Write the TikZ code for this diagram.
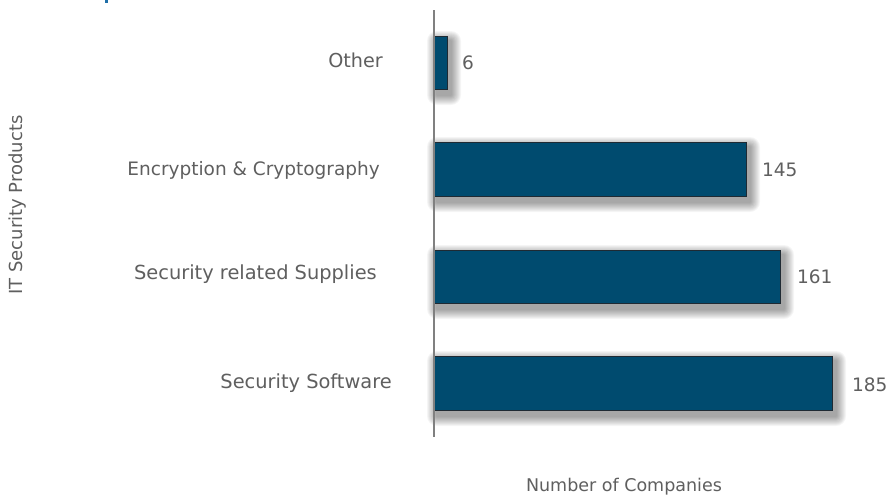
\documentclass[tikz,border=0pt]{standalone}
\usepackage{fontspec}
\setmainfont{DejaVu Sans}
\usetikzlibrary{backgrounds}
\definecolor{barblue}{HTML}{004B6F}
\definecolor{bardark}{HTML}{1F2A33}
\definecolor{txtgray}{HTML}{5F5F5F}
\definecolor{axisgray}{HTML}{808080}
\definecolor{markblue}{HTML}{1F6FA8}
\tikzset{
  bar/.style={fill=barblue, draw=bardark, line width=1pt, inner sep=0pt, anchor=north west},
  cat/.style={anchor=east, text=txtgray, inner sep=0pt},
  val/.style={anchor=west, text=txtgray, font=\fontsize{18.5}{22}\selectfont, inner sep=0pt},
  axt/.style={text=txtgray, inner sep=0pt},
  shadowlayer/.style={fill=black, opacity=0.04}
}
\newcommand\myshadow[1]{%
  \foreach \k in {1,...,10}{%
    \fill[shadowlayer, rounded corners=\k pt]
      ([xshift=3pt-\k pt, yshift=-5pt+\k pt]#1.north west) rectangle
      ([xshift=3pt+\k pt, yshift=-5pt-\k pt]#1.south east);
  }%
}
\begin{document}
\begin{tikzpicture}[x=1pt,y=-1pt]
\useasboundingbox (0,0) rectangle (889,501);
\begin{pgfonlayer}{background}
\fill[white] (0,0) rectangle (889,501);
\end{pgfonlayer}
\fill[markblue] (105,0) rectangle (107.5,3);
% bars
\node[bar, minimum width=13pt, minimum height=53pt] (b1) at (434,36) {};
\node[bar, minimum width=312pt, minimum height=54pt] (b2) at (434,142) {};
\node[bar, minimum width=346pt, minimum height=53pt] (b3) at (434,250) {};
\node[bar, minimum width=398pt, minimum height=54pt] (b4) at (434,356) {};
\begin{pgfonlayer}{background}
\myshadow{b1}
\myshadow{b2}
\myshadow{b3}
\myshadow{b4}
\end{pgfonlayer}
% axis
\coordinate (ax1) at (434,10);
\coordinate (ax2) at (434,437);
\draw[axisgray, line width=2pt] (ax1) -- (ax2);
% category labels
\node[cat, font=\fontsize{19.2}{23}\selectfont] (l1) at (383,60) {Other};
\node[cat, font=\fontsize{18.5}{22}\selectfont] (l2) at (380,170) {Encryption \& Cryptography};
\node[cat, font=\fontsize{19.4}{23}\selectfont] (l3) at (377,274) {Security related Supplies};
\node[cat, font=\fontsize{19.4}{23}\selectfont] (l4) at (392,383) {Security Software};
% values
\node[val] (v1) at (462,63) {6};
\node[val] (v2) at (762,170) {145};
\node[val] (v3) at (797,277) {161};
\node[val] (v4) at (852,385) {185};
% axis titles
\node[axt, rotate=90, font=\fontsize{18}{22}\selectfont] (yt) at (18,205) {IT Security Products};
\node[axt, font=\fontsize{17.5}{21}\selectfont] (xt) at (624,487) {Number of Companies};
\end{tikzpicture}
\end{document}
